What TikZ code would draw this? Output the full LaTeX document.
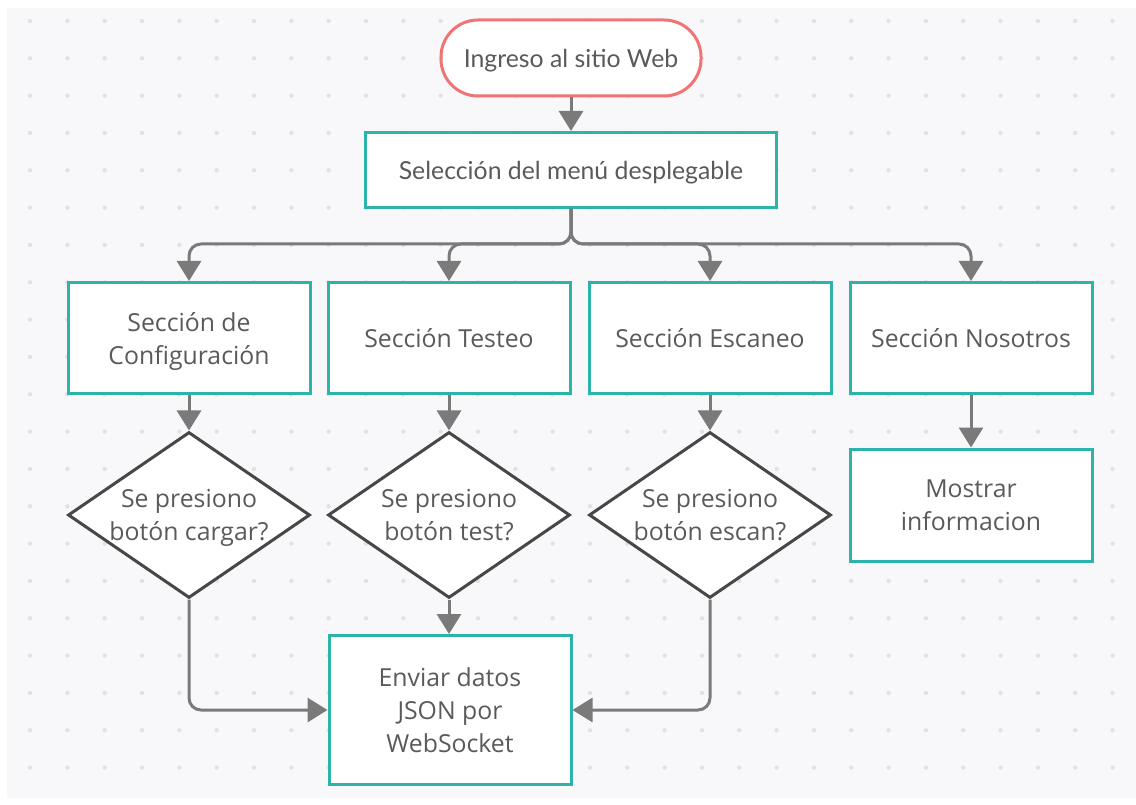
\documentclass[tikz,border=0pt]{standalone}
\usepackage{fontspec}
\setmainfont{Open Sans}
\newfontfamily\latofont{Lato}
\usetikzlibrary{shapes.geometric,arrows.meta}
\definecolor{pagebg}{HTML}{F8F8FA}
\definecolor{griddot}{HTML}{E2E2E6}
\definecolor{tealline}{HTML}{2DB3AA}
\definecolor{startline}{HTML}{F07474}
\definecolor{txtgray}{HTML}{5A5A5A}
\definecolor{linkgray}{HTML}{7A7A7A}
\definecolor{diagray}{HTML}{474747}
\tikzset{
  every node/.style={text=txtgray, font=\fontsize{24.8}{33}\selectfont, text depth=0pt},
  box/.style={draw=tealline, line width=3pt, fill=white, rectangle,
    minimum width=242pt, minimum height=111pt, align=center, inner sep=0pt},
  startbox/.style={draw=startline, line width=3pt, fill=white, rectangle,
    rounded corners=37pt, minimum width=260pt, minimum height=76pt,
    font=\latofont\fontsize{24.8}{33}\selectfont},
  decision/.style={draw=diagray, line width=3pt, fill=white, diamond,
    minimum width=242pt, minimum height=166pt, inner sep=0pt},
  dlabel/.style={align=center},
  link/.style={draw=linkgray, line width=3pt, rounded corners=12pt,
    -{Triangle[width=24pt,length=20pt]}},
}
\begin{document}
\begin{tikzpicture}[x=1pt,y=-1pt]
  \useasboundingbox (0,0) rectangle (1136,805);
  % canvas and dot grid
  \fill[pagebg] (7,8) rectangle (1136,798);
  \foreach \i in {0,...,29} {
    \foreach \j in {0,...,20} {
      \fill[griddot] ({30+37.33*\i},{21+37.33*\j}) circle (2.2pt);
    }
  }
  % nodes
  \node[startbox] (start) at (571,58) {Ingreso al sitio Web};
  \node[box, minimum width=411pt, minimum height=75pt,
        font=\latofont\fontsize{24.8}{33}\selectfont] (menu) at (571,170)
        {Selección del menú desplegable};
  \node[box] (conf) at (189,338) {Sección de\\Configuración};
  \node[box] (test) at (449,338) {Sección Testeo};
  \node[box] (scan) at (710,338) {Sección Escaneo};
  \node[box] (nos)  at (971,338) {Sección Nosotros};
  \node[decision, label={[dlabel]center:Se presiono\\botón cargar?}] (dconf) at (189,515) {};
  \node[decision, label={[dlabel]center:Se presiono\\botón test?}] (dtest) at (449,515) {};
  \node[decision, label={[dlabel]center:Se presiono\\botón escan?}] (dscan) at (710,515) {};
  \node[box, minimum height=112pt] (info) at (971,505) {Mostrar\\informacion};
  \node[box, minimum height=149pt] (send) at (450,710) {Enviar datos\\JSON por\\WebSocket};
  % connectors
  \draw[link] (start) -- (menu);
  \draw[link] (menu.south) -- ++(0,35) -| (conf.north);
  \draw[link] (menu.south) -- ++(0,35) -| (test.north);
  \draw[link] (menu.south) -- ++(0,35) -| (scan.north);
  \draw[link] (menu.south) -- ++(0,35) -| (nos.north);
  \draw[link] (conf) -- (dconf);
  \draw[link] (test) -- (dtest);
  \draw[link] (scan) -- (dscan);
  \draw[link] (nos) -- (info);
  \draw[link] (dtest.south) -- (dtest.south |- send.north);
  \draw[link] (dconf.south) |- (send.west);
  \draw[link] (dscan.south) |- (send.east);
\end{tikzpicture}
\end{document}
